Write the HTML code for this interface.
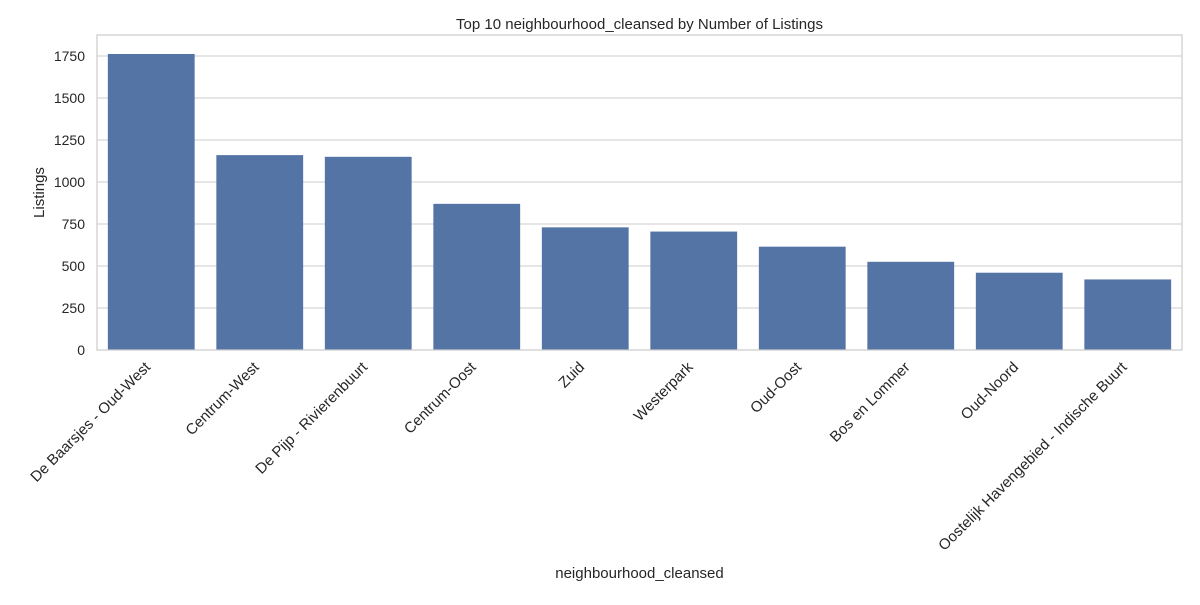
<!DOCTYPE html>
<html><head><meta charset="utf-8"><style>
body{margin:0;background:#fff;}
text{font-family:"Liberation Sans","DejaVu Sans",sans-serif;fill:#262626;}
</style></head><body>
<svg id="chart" width="1200" height="600"></svg>
<script>
const categories=["De Baarsjes - Oud-West","Centrum-West","De Pijp - Rivierenbuurt","Centrum-Oost","Zuid","Westerpark","Oud-Oost","Bos en Lommer","Oud-Noord","Oostelijk Havengebied - Indische Buurt"];
const listings=[1762,1160,1150,870,730,705,615,525,460,420];
const yTicks=[0,250,500,750,1000,1250,1500,1750];
const svg=document.getElementById('chart');
const NS='http://www.w3.org/2000/svg';
const L=97,R=1182,T=35,B=350,yMax=1875;
const y=v=>B-(v/yMax)*(B-T);
const step=(R-L)/categories.length;
const x=i=>L+step*(i+0.5);
function el(t,a){const e=document.createElementNS(NS,t);for(const k in a)e.setAttribute(k,a[k]);svg.appendChild(e);return e;}
yTicks.forEach(v=>{
 const g=el('line',{x1:L,x2:R,y1:y(v),y2:y(v),stroke:'#cccccc','stroke-width':1});
 
 
 const t=el('text',{x:L-12,y:y(v)+5,'text-anchor':'end','font-size':14});
 t.textContent=v;
 
 
});
categories.forEach((c,i)=>{
 const w=step*0.8;
 const b=el('rect',{x:x(i)-w/2,y:y(listings[i]),width:w,height:B-y(listings[i]),fill:'#5574a6'});
 
 
 const ax=x(i), ay=B+18;
 const t=el('text',{x:ax,y:ay,'text-anchor':'end','font-size':15,transform:`rotate(-45 ${ax} ${ay})`});
 t.textContent=c;
 
 
});
const f=el('rect',{x:L,y:T,width:R-L,height:B-T,fill:'none',stroke:'#cccccc','stroke-width':1.2});


const ti=el('text',{x:(L+R)/2,y:29,'text-anchor':'middle','font-size':15});
ti.textContent='Top 10 neighbourhood_cleansed by Number of Listings';


const xt=el('text',{x:(L+R)/2,y:578,'text-anchor':'middle','font-size':15});
xt.textContent='neighbourhood_cleansed';


const yt=el('text',{x:44,y:(T+B)/2,'text-anchor':'middle','font-size':15,transform:`rotate(-90 44 ${(T+B)/2})`});
yt.textContent='Listings';


</script>
</body></html>
